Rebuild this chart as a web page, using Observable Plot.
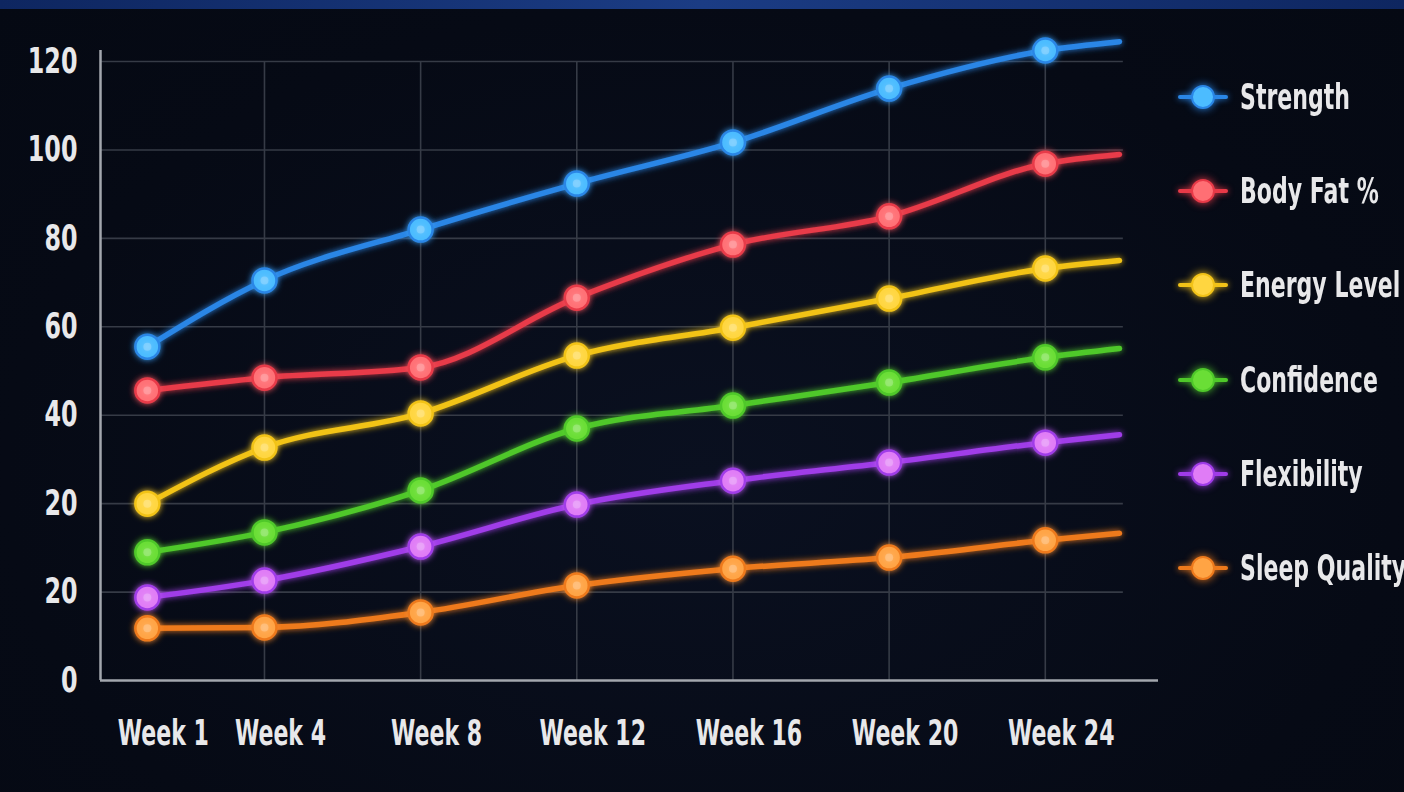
<!DOCTYPE html>
<html>
<head>
<meta charset="utf-8">
<script src="https://cdn.jsdelivr.net/npm/d3@7"></script>
<script src="https://cdn.jsdelivr.net/npm/@observablehq/plot@0.6"></script>
<style>
  html, body { margin: 0; padding: 0; }
  body {
    width: 1404px; height: 792px; overflow: hidden; position: relative;
    background: radial-gradient(ellipse at 50% 60%, #0a1020 0%, #060a15 70%, #050913 100%);
    font-family: "DejaVu Sans", Roboto, sans-serif;
  }
  #band { position: absolute; left: 0; top: 0; width: 1404px; height: 9px;
    background: linear-gradient(90deg, #0e2660, #1b3c84 50%, #0e2660); }
  #chart { position: absolute; left: 0; top: 0; }
  #chart svg { background: transparent; }
  #legend { position: absolute; left: 0; top: 0; width: 1404px; height: 792px; pointer-events: none; }
  .item { position: absolute; left: 1176px; height: 40px; }
  .item .seg { position: absolute; left: 2px; top: 18px; width: 50px; height: 4px; border-radius: 2px; }
  .item .dot { position: absolute; left: 15px; top: 8px; width: 24px; height: 24px; border-radius: 50%; box-sizing: border-box; border: 2px solid; }
  .item .lab { position: absolute; left: 64px; top: 0; line-height: 40px; font-size: 35px; font-weight: bold;
    color: #e8e8ea; white-space: nowrap; transform: scaleX(0.63); transform-origin: 0 50%; }
</style>
</head>
<body>
<div id="band"></div>
<div id="chart"></div>
<div id="legend"></div>
<script>
// ---- data ----
const weeks = [1, 4, 8, 12, 16, 20, 24];
const weekLabels = ["Week 1", "Week 4", "Week 8", "Week 12", "Week 16", "Week 20", "Week 24"];
const endWeek = 25.9; // where the lines run out past Week 24
const seriesNames = ["Strength", "Body Fat %", "Energy Level", "Confidence", "Flexibility", "Sleep Quality"];
const strength    = [75.5, 90.5, 102.0, 112.4, 121.7, 133.9, 142.5];
const bodyFat     = [65.6, 68.5, 70.8, 86.6, 98.6, 105.0, 116.9];
const energy      = [40.0, 52.7, 60.4, 73.5, 79.8, 86.4, 93.2];
const confidence  = [29.0, 33.5, 43.0, 57.0, 62.2, 67.4, 73.1];
const flexibility = [18.8, 22.6, 30.3, 39.8, 45.2, 49.3, 53.8];
const sleep       = [11.8, 12.0, 15.4, 21.5, 25.3, 27.8, 31.7];
const endValues   = [144.5, 119.0, 95.0, 75.1, 55.6, 33.3];
const yTicks      = [0, 20, 40, 60, 80, 100, 120, 140];
const yTickLabels = ["0", "20", "20", "40", "60", "80", "100", "120"];

// ---- styles ----
const lineColors = ["#2a86e6", "#e83a48", "#f2c318", "#4fc82a", "#a03ce8", "#ee7a1c"];
const dotColors  = ["#4cbcff", "#ff6f74", "#ffd640", "#6ade36", "#e07cf6", "#ffa444"];
const gridColor = "#363b46";
const axisColor = "#a3a7ae";
const textColor = "#e8e8ea";
const fontFamily = '"DejaVu Sans", Roboto, sans-serif';

const allSeries = [strength, bodyFat, energy, confidence, flexibility, sleep];
const xDomain = [-0.2, 26.9];

const lineMarks = [];
const dotMarks = [];
allSeries.forEach((vals, si) => {
  const pts = weeks.map((w, i) => ({week: w, value: vals[i]}));
  const linePts = pts.concat([{week: endWeek, value: endValues[si]}]);
  lineMarks.push(Plot.line(linePts, {x: "week", y: "value", stroke: lineColors[si], strokeWidth: 5.5, curve: "monotone-x", strokeLinecap: "round"}));
  dotMarks.push(Plot.dot(pts, {x: "week", y: "value", r: 12, fill: dotColors[si], stroke: lineColors[si], strokeWidth: 2.5}));
  dotMarks.push(Plot.dot(pts, {x: "week", y: "value", r: 4, fill: "#ffffff", fillOpacity: 0.22}));
});

const chart = Plot.plot({
  width: 1404,
  height: 792,
  marginLeft: 100,
  marginRight: 246,
  marginTop: 50,
  marginBottom: 112,
  style: {background: "transparent", color: textColor, fontFamily: fontFamily, fontSize: "35px", fontWeight: "bold"},
  x: {domain: xDomain},
  y: {domain: [0, 142.5]},
  marks: [
    Plot.ruleY(yTicks.slice(1), {x1: xDomain[0], x2: endWeek + 0.1, stroke: gridColor, strokeWidth: 1.6}),
    Plot.ruleX(weeks.slice(1), {y1: 0, y2: 140, stroke: gridColor, strokeWidth: 1.6}),
    Plot.ruleX([xDomain[0]], {stroke: axisColor, strokeWidth: 2.5}),
    Plot.ruleY([0], {x1: xDomain[0], x2: xDomain[1], stroke: axisColor, strokeWidth: 2.5}),
    ...lineMarks,
    ...dotMarks,
    Plot.axisY({ticks: yTicks, tickFormat: d => yTickLabels[yTicks.indexOf(d)], tickSize: 0, tickPadding: 23, label: null, fill: textColor, fontSize: 35}),
    Plot.axisX({ticks: weeks, tickFormat: d => weekLabels[weeks.indexOf(d)], tickSize: 0, tickPadding: 40, label: null, fill: textColor, fontSize: 35, dx: 16})
  ]
});
document.getElementById("chart").appendChild(chart);

// condense the axis text (no condensed face installed)
const svg = d3.select(chart);
svg.selectAll('g[aria-label="y-axis tick label"] text').each(function() {
  const len = this.getComputedTextLength();
  if (len > 0) { this.setAttribute("textLength", (len * 0.68).toFixed(1)); this.setAttribute("lengthAdjust", "spacingAndGlyphs"); }
});
svg.selectAll('g[aria-label="x-axis tick label"] text').each(function() {
  const len = this.getComputedTextLength();
  if (len > 0) { this.setAttribute("textLength", (len * 0.63).toFixed(1)); this.setAttribute("lengthAdjust", "spacingAndGlyphs"); }
});

// glow filter
const defs = svg.insert("defs", ":first-child");
const f = defs.append("filter").attr("id", "glow").attr("x", "-20%").attr("y", "-20%").attr("width", "140%").attr("height", "140%");
f.append("feGaussianBlur").attr("in", "SourceGraphic").attr("stdDeviation", 3).attr("result", "b");
const m = f.append("feMerge");
m.append("feMergeNode").attr("in", "b");
m.append("feMergeNode").attr("in", "SourceGraphic");
svg.selectAll('g[aria-label="line"], g[aria-label="dot"]').attr("filter", "url(#glow)");

// legend
const legend = d3.select("#legend");
seriesNames.forEach((name, i) => {
  const it = legend.append("div").attr("class", "item").style("top", (77 + i * 94.2) + "px");
  it.append("div").attr("class", "seg").style("background", lineColors[i]).style("box-shadow", "0 0 6px " + lineColors[i]);
  it.append("div").attr("class", "dot").style("background", dotColors[i]).style("border-color", lineColors[i]).style("box-shadow", "0 0 8px " + lineColors[i]);
  it.append("div").attr("class", "lab").text(name);
});
</script>
</body>
</html>
